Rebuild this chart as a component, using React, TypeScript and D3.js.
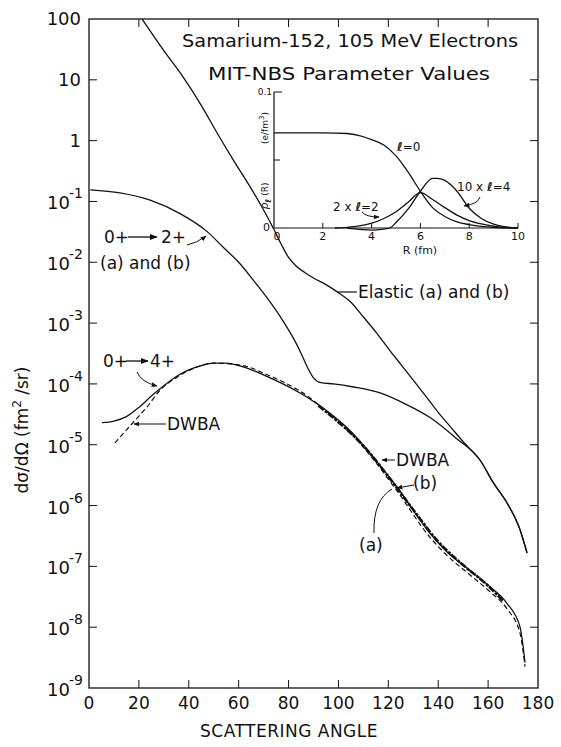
import React from "react";
import * as d3 from "d3";

// ---------- data ----------
const xTickValues = [0, 20, 40, 60, 80, 100, 120, 140, 160, 180];
const yDecadeExponents = [2, 1, 0, -1, -2, -3, -4, -5, -6, -7, -8, -9];

const elasticAngle = [21.3, 30, 37.7, 45, 51.3, 58, 64.6, 70, 74, 77, 80, 83, 86.5, 90, 95, 99.8, 105, 110, 115, 120.7, 125, 130, 135, 140, 145, 150, 157, 162, 167.6, 172.8, 175.6];
const elasticValue = [100, 30.2, 11.2, 3.8, 1.35, 0.47, 0.174, 0.0724, 0.0355, 0.02, 0.012, 0.0087, 0.0068, 0.0055, 0.0043, 0.0032, 0.0022, 0.00126, 0.00071, 0.00035, 0.00021, 0.000115, 0.000063, 0.000034, 0.0000195, 0.0000112, 0.0000054, 0.0000024, 0.0000011, 0.0000004, 0.000000166];

const e2Angle = [0.5, 12.4, 24.5, 36.5, 47.5, 53.7, 60, 66, 72, 78, 82, 85, 87.5, 90, 93, 98, 106, 116.7, 126.7, 136.7, 146.8, 157, 162, 167.6, 172.8, 175.6];
const e2Value = [0.155, 0.138, 0.105, 0.063, 0.0316, 0.0178, 0.01, 0.005, 0.0024, 0.00105, 0.00056, 0.00032, 0.00019, 0.000126, 0.000105, 0.0001, 0.000089, 0.000071, 0.000047, 0.000028, 0.0000132, 0.0000054, 0.0000024, 0.0000011, 0.0000004, 0.000000166];

const e4Angle = [5.2, 10, 15, 20, 25, 30, 35, 40, 45, 50, 55, 60.5, 72.6, 84.6, 96.6, 105, 113.9, 123.5, 136.7, 144, 151.6, 160.8, 167.6, 172.8, 174.8];
const e4Value = [2.3e-5, 2.45e-5, 2.9e-5, 4.1e-5, 6.3e-5, 9.3e-5, 1.32e-4, 1.7e-4, 2.0e-4, 2.2e-4, 2.2e-4, 1.98e-4, 1.26e-4, 7.1e-5, 3.3e-5, 1.66e-5, 6.3e-6, 2.0e-6, 3.5e-7, 1.66e-7, 9.3e-8, 4.6e-8, 2.45e-8, 1.0e-8, 2.6e-9];

const dwbaAngle = [10.4, 17.6, 23.3, 28.5, 35.3, 41.7, 49.7, 60.5, 72.6, 84.6, 96.6, 105, 113.9, 123.5, 136.7, 144, 151.6, 160.8, 167.6, 172.8, 174.8];
const dwbaValue = [1.07e-5, 2.3e-5, 4.2e-5, 7.9e-5, 1.29e-4, 1.78e-4, 2.19e-4, 2.04e-4, 1.35e-4, 7.6e-5, 3.2e-5, 1.55e-5, 5.8e-6, 1.74e-6, 3.0e-7, 1.45e-7, 7.9e-8, 3.8e-8, 2.0e-8, 7.9e-9, 2.24e-9];

const abAngle = [92, 100, 110, 120, 130, 140, 150, 160, 166];
const abValue = [4.4e-5, 2.35e-5, 9.6e-6, 3.0e-6, 8.5e-7, 2.55e-7, 1.05e-7, 4.8e-8, 2.7e-8];

// inset data (R in fm, rho in e/fm^3)
const insetXTicks = [0, 2, 4, 6, 8, 10];
const rho0R = [0, 1, 2, 3, 3.5, 4, 4.5, 5, 5.5, 6, 6.5, 7, 7.5, 8, 8.5, 9, 10];
const rho0V = [0.07, 0.07, 0.07, 0.0695, 0.068, 0.065, 0.061, 0.053, 0.041, 0.027, 0.015, 0.0085, 0.0045, 0.0025, 0.0012, 0.0005, 0];
const rho2R = [2.5, 3, 3.5, 4, 4.5, 5, 5.5, 6, 6.5, 7, 7.5, 8, 8.5, 9, 9.5, 10];
const rho2V = [0, 0.0005, 0.0015, 0.0035, 0.007, 0.012, 0.019, 0.026, 0.021, 0.015, 0.0095, 0.0055, 0.003, 0.0013, 0.0004, 0];
const rho4R = [3, 3.5, 4, 4.5, 4.75, 5, 5.5, 6, 6.5, 6.7, 7, 7.5, 8, 8.5, 9, 9.5, 10];
const rho4V = [-0.0003, -0.001, -0.0015, -0.0008, 0, 0.004, 0.014, 0.027, 0.0365, 0.0365, 0.035, 0.027, 0.0145, 0.007, 0.0028, 0.0008, 0];

const FONT = "'DejaVu Sans', sans-serif";

export default function App() {
  const x = d3.scaleLinear().domain([0, 180]).range([89, 538]);
  const y = d3.scaleLog().domain([1e-9, 100]).range([688, 19]);
  const line = d3
    .line<[number, number]>()
    .x((d) => x(d[0]))
    .y((d) => y(d[1]))
    .curve(d3.curveMonotoneX);
  const zip = (a: number[], b: number[]) => a.map((v, i) => [v, b[i]] as [number, number]);

  const xi = d3.scaleLinear().domain([0, 10]).range([274, 518]);
  const yi = d3.scaleLinear().domain([0, 0.1]).range([228, 92]);
  const iline = d3
    .line<[number, number]>()
    .x((d) => xi(d[0]))
    .y((d) => yi(d[1]))
    .curve(d3.curveMonotoneX);

  const left = x(0), right = x(180), top = y(100), bottom = y(1e-9);
  const stroke = "#111";

  return (
    <svg width={561} height={747} style={{ display: "block", position: "absolute", left: 0, top: 0, background: "#fff" }} fontFamily={FONT}>
      <defs>
        <marker id="ah" viewBox="0 0 10 10" refX="9" refY="5" markerWidth="6" markerHeight="6" orient="auto-start-reverse">
          <path d="M0,1 L10,5 L0,9 z" fill={stroke} />
        </marker>
      </defs>
      <rect x={0} y={0} width={561} height={747} fill="#fff" />
      {/* frame */}
      <rect x={left} y={top} width={right - left} height={bottom - top} fill="none" stroke={stroke} strokeWidth={1.3} />
      {xTickValues.slice(1, -1).map((t) => (
        <g key={"xt" + t}>
          <line x1={x(t)} x2={x(t)} y1={bottom} y2={bottom - 8} stroke={stroke} strokeWidth={1} />
          <line x1={x(t)} x2={x(t)} y1={top} y2={top + 8} stroke={stroke} strokeWidth={1} />
        </g>
      ))}
      {xTickValues.map((t) => (
        <text key={"xl" + t} x={x(t)} y={709} fontSize={17} textAnchor="middle" fill={stroke}>
          {t}
        </text>
      ))}
      <text x={289} y={737} fontSize={17} textAnchor="middle" fill={stroke} letterSpacing={0.5}>
        SCATTERING ANGLE
      </text>
      {yDecadeExponents.slice(1, -1).map((e) => (
        <g key={"yt" + e}>
          <line x1={left} x2={left + 8} y1={y(Math.pow(10, e))} y2={y(Math.pow(10, e))} stroke={stroke} strokeWidth={1} />
          <line x1={right} x2={right - 8} y1={y(Math.pow(10, e))} y2={y(Math.pow(10, e))} stroke={stroke} strokeWidth={1} />
        </g>
      ))}
      {yDecadeExponents.map((e) => {
        const yy = y(Math.pow(10, e));
        if (e >= 0) {
          return (
            <text key={"yl" + e} x={81} y={yy + 6} fontSize={18} textAnchor="end" fill={stroke}>
              {Math.pow(10, e)}
            </text>
          );
        }
        return (
          <g key={"yl" + e}>
            <text x={70} y={yy + 8} fontSize={18} textAnchor="end" fill={stroke}>
              10
            </text>
            <text x={69} y={yy - 3} fontSize={14} textAnchor="start" fill={stroke}>
              {"-" + -e}
            </text>
          </g>
        );
      })}
      <text transform="translate(28,430) rotate(-90)" fontSize={17} textAnchor="middle" fill={stroke}>
        dσ/dΩ (fm<tspan dy={-7} fontSize={12}>2</tspan>
        <tspan dy={7}> /sr)</tspan>
      </text>

      {/* title */}
      <text x={350} y={47} fontSize={18} textAnchor="middle" fill={stroke} textLength={336} lengthAdjust="spacingAndGlyphs">
        Samarium-152, 105 MeV Electrons
      </text>
      <text x={349} y={80} fontSize={18} textAnchor="middle" fill={stroke} textLength={282} lengthAdjust="spacingAndGlyphs">
        MIT-NBS Parameter Values
      </text>

      {/* curves */}
      <path d={line(zip(elasticAngle, elasticValue)) || ""} fill="none" stroke={stroke} strokeWidth={1.3} />
      <path d={line(zip(e2Angle, e2Value)) || ""} fill="none" stroke={stroke} strokeWidth={1.3} />
      <path d={line(zip(e4Angle, e4Value)) || ""} fill="none" stroke={stroke} strokeWidth={1.3} />
      <path d={line(zip(dwbaAngle, dwbaValue)) || ""} fill="none" stroke={stroke} strokeWidth={1.2} strokeDasharray="5,3" />
      <path d={line(zip(abAngle, abValue)) || ""} fill="none" stroke={stroke} strokeWidth={2.6} strokeDasharray="7,1.5,3,1" />

      {/* annotations main */}
      <text x={104} y={243} fontSize={17} fill={stroke}>0+</text>
      <line x1={128} x2={157} y1={237} y2={237} stroke={stroke} strokeWidth={1.3} markerEnd="url(#ah)" />
      <text x={161} y={243} fontSize={17} fill={stroke}>2+</text>
      <path d="M187,245 Q197,243 206,236" fill="none" stroke={stroke} strokeWidth={1} markerEnd="url(#ah)" />
      <text x={100} y={269} fontSize={17} fill={stroke}>(a) and (b)</text>

      <line x1={338} x2={357} y1={292} y2={292} stroke={stroke} strokeWidth={1.2} />
      <text x={358} y={298} fontSize={17} fill={stroke}>Elastic (a) and (b)</text>

      <text x={103} y={367} fontSize={17} fill={stroke}>0+</text>
      <line x1={126} x2={148} y1={361} y2={361} stroke={stroke} strokeWidth={1.3} markerEnd="url(#ah)" />
      <text x={150} y={367} fontSize={17} fill={stroke}>4+</text>
      <path d="M137,372 Q141,382 157,386" fill="none" stroke={stroke} strokeWidth={1} markerEnd="url(#ah)" />
      <line x1={166} x2={134} y1={424} y2={424} stroke={stroke} strokeWidth={1} markerEnd="url(#ah)" />
      <text x={167} y={430} fontSize={17} fill={stroke}>DWBA</text>

      <line x1={395} x2={382} y1={460} y2={460} stroke={stroke} strokeWidth={1} markerEnd="url(#ah)" />
      <text x={396} y={466} fontSize={17} fill={stroke}>DWBA</text>
      <text x={413} y={489} fontSize={17} fill={stroke}>(b)</text>
      <line x1={414} x2={397} y1={485} y2={488} stroke={stroke} strokeWidth={1} markerEnd="url(#ah)" />
      <path d="M374,533 Q373,500 392,489" fill="none" stroke={stroke} strokeWidth={1} />
      <text x={359} y={551} fontSize={17} fill={stroke}>(a)</text>

      {/* inset */}
      <g>
        <line x1={xi(0)} x2={xi(0)} y1={yi(0)} y2={yi(0.1)} stroke={stroke} strokeWidth={1.2} />
        <line x1={xi(0)} x2={xi(10)} y1={yi(0)} y2={yi(0)} stroke={stroke} strokeWidth={1.2} />
        <line x1={xi(0)} x2={xi(0) + 8} y1={yi(0.1)} y2={yi(0.1)} stroke={stroke} strokeWidth={1} />
        <line x1={xi(0)} x2={xi(0) + 6} y1={yi(0.05)} y2={yi(0.05)} stroke={stroke} strokeWidth={1} />
        {insetXTicks.slice(1).map((t) => (
          <line key={"it" + t} x1={xi(t)} x2={xi(t)} y1={yi(0)} y2={yi(0) - 5} stroke={stroke} strokeWidth={1} />
        ))}
        {insetXTicks.map((t) => (
          <text key={"il" + t} x={xi(t) + (t === 0 ? 3 : 0)} y={yi(0) + 12} fontSize={11} textAnchor="middle" fill={stroke}>
            {t}
          </text>
        ))}
        <text x={xi(0) - 4} y={yi(0) + 3} fontSize={11} textAnchor="end" fill={stroke}>0</text>
        <text x={xi(0) - 2} y={yi(0.1) + 3} fontSize={9} textAnchor="end" fill={stroke}>0.1</text>
        <text x={420} y={254} fontSize={11} textAnchor="middle" fill={stroke}>R (fm)</text>
        <text transform="translate(268,196) rotate(-90)" fontSize={9} textAnchor="middle" fill={stroke}>
          <tspan fontStyle="italic" fontSize={11}>ρ</tspan>
          <tspan fontStyle="italic" fontWeight="bold" fontSize={8} dy={3}>ℓ</tspan>
          <tspan dy={-3}> (R)</tspan>
        </text>
        <text transform="translate(268,128) rotate(-90)" fontSize={9} textAnchor="middle" fill={stroke}>
          (e/fm<tspan dy={-4} fontSize={7}>3</tspan>
          <tspan dy={4}>)</tspan>
        </text>

        <path d={iline(zip(rho0R, rho0V)) || ""} fill="none" stroke={stroke} strokeWidth={1.3} />
        <path d={iline(zip(rho2R, rho2V)) || ""} fill="none" stroke={stroke} strokeWidth={1.3} />
        <path d={iline(zip(rho4R, rho4V)) || ""} fill="none" stroke={stroke} strokeWidth={1.3} />

        <text x={397} y={151} fontSize={12} fill={stroke}>
          <tspan fontStyle="italic" fontWeight="bold">ℓ</tspan>=0
        </text>
        <text x={457} y={191} fontSize={12} fill={stroke}>
          10 x <tspan fontStyle="italic" fontWeight="bold">ℓ</tspan>=4
        </text>
        <path d="M480,197 Q478,204 464,206" fill="none" stroke={stroke} strokeWidth={1} markerEnd="url(#ah)" />
        <text x={333} y={211} fontSize={12} fill={stroke}>
          2 x <tspan fontStyle="italic" fontWeight="bold">ℓ</tspan>=2
        </text>
        <path d="M362,212 Q366,217 379,217" fill="none" stroke={stroke} strokeWidth={1} markerEnd="url(#ah)" />
      </g>
    </svg>
  );
}
